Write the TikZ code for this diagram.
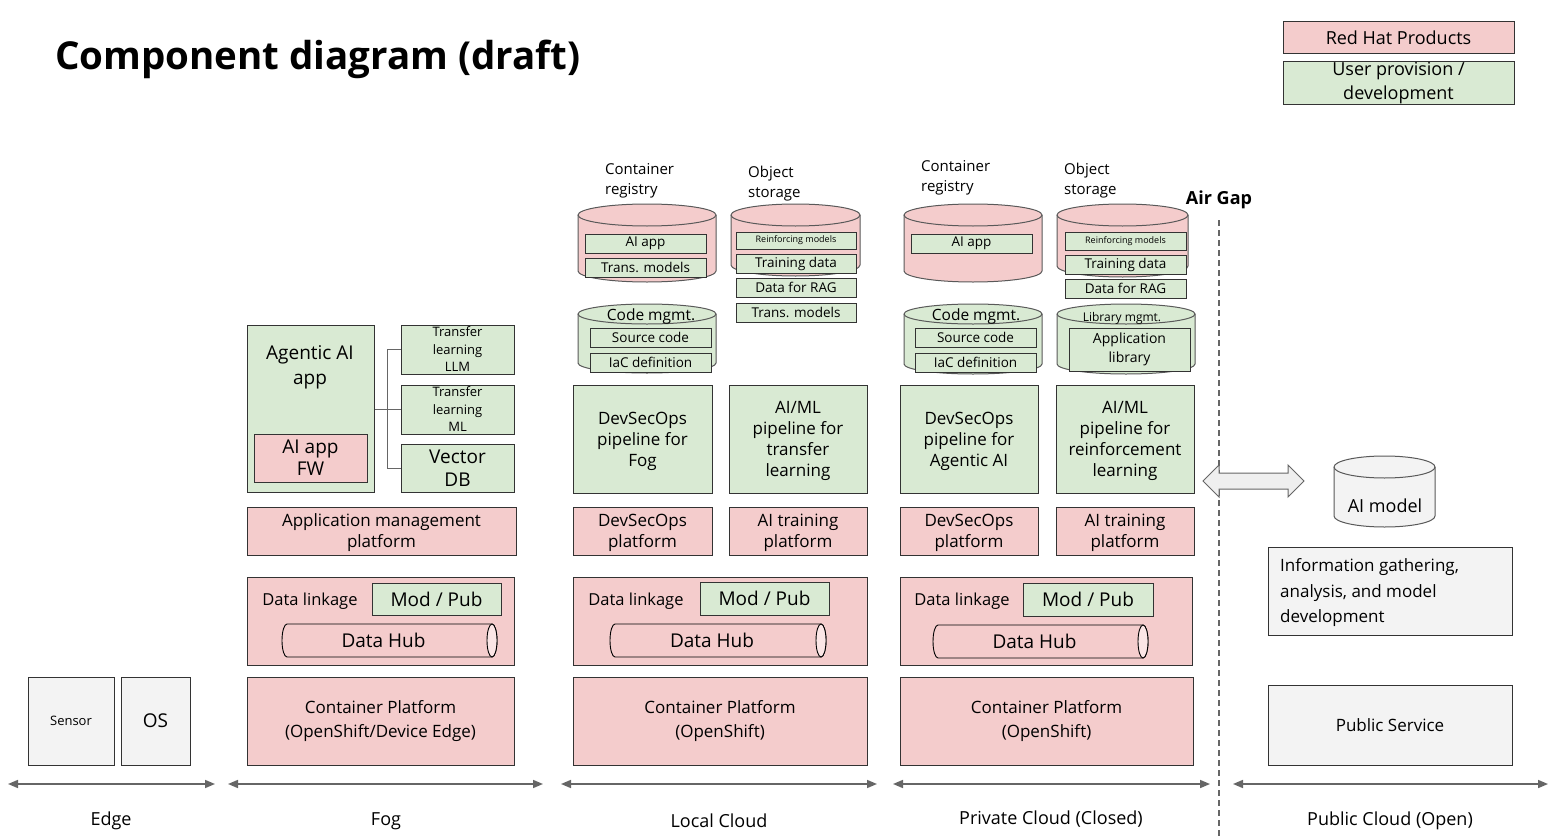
\documentclass[tikz,border=0pt]{standalone}
\usepackage{fontspec}
\setmainfont{Open Sans}
\usetikzlibrary{arrows.meta}
\definecolor{rhpink}{HTML}{F4CCCC}
\definecolor{usgreen}{HTML}{D9EAD3}
\definecolor{pubgrey}{HTML}{F3F3F3}
\definecolor{edgecol}{HTML}{333333}
\definecolor{cylcol}{HTML}{595959}
\definecolor{axiscol}{HTML}{666666}
\definecolor{hubend}{HTML}{FBE6E6}
\definecolor{fatfill}{HTML}{EFEFEF}
\newcommand\fs[2]{\fontsize{#1}{#2}\selectfont}
\tikzset{
  box/.style={draw=edgecol, line width=1pt, inner sep=0pt, align=center, text=black},
  redbox/.style={box, fill=rhpink},
  greenbox/.style={box, fill=usgreen},
  greybox/.style={box, fill=pubgrey},
  txt/.style={inner sep=0pt, align=center, text=black},
  lefttxt/.style={inner sep=0pt, align=left, anchor=west, text=black},
  main/.style={font=\fs{17}{21}, text depth=-1pt},
  cpf/.style={font=\fs{17}{24}},
  big/.style={font=\fs{19}{23}},
  itm/.style={font=\fs{13.5}{16}},
  tinytxt/.style={font=\fs{9}{11}},
  dltxt/.style={txt, font=\fs{16.5}{20}},
  storelbl/.style={lefttxt, font=\fs{15}{20}},
  axislbl/.style={txt, font=\fs{18}{22}},
  cylline/.style={draw=cylcol, line width=1pt},
  hubline/.style={draw=black, line width=0.9pt},
  axisarrow/.style={draw=axiscol, line width=1.6pt, arrows={Triangle[length=10pt,width=8pt]-Triangle[length=10pt,width=8pt]}},
  conn/.style={draw=axiscol, line width=1pt},
  gapline/.style={draw=axiscol, line width=1.6pt, dash pattern=on 6pt off 4pt},
}
% box: style, name, x1, y1, x2, y2, text  (pixel coordinates, y downwards)
\newcommand\bx[7]{\node[#1, minimum width={(#5-#3)*1pt}, minimum height={(#6-#4)*1pt}] (#2) at ({(#3+#5)/2},{-(#4+#6)/2}) {#7};}
% vertical cylinder: name, x1, ytop, x2, ybot, ry, fill
\newcommand\cyl[7]{%
  \pgfmathsetmacro\crx{(#4-#2)/2}%
  \pgfmathsetmacro\cya{-#3-#6}%
  \pgfmathsetmacro\cyb{-#5+#6}%
  \filldraw[cylline, fill=#7] (#2,\cya) -- (#2,\cyb) arc[start angle=180,end angle=360,x radius=\crx pt,y radius=#6 pt] -- (#4,\cya) arc[start angle=0,end angle=180,x radius=\crx pt,y radius=#6 pt] -- cycle;
  \draw[cylline] (#2,\cya) arc[start angle=180,end angle=360,x radius=\crx pt,y radius=#6 pt];
  \coordinate (#1) at ({(#2+#4)/2},{-(#3+#5)/2});
}
% horizontal cylinder (Data Hub): name, x1, y1, x2, y2, text
\newcommand\hub[6]{%
  \pgfmathsetmacro\ha{-#3}%
  \pgfmathsetmacro\hb{-#5}%
  \pgfmathsetmacro\hr{(#5-#3)/2}%
  \pgfmathsetmacro\hxa{#2+5}%
  \pgfmathsetmacro\hxb{#4-5}%
  \pgfmathsetmacro\hm{-(#3+#5)/2}%
  \filldraw[hubline, fill=rhpink] (\hxa,\ha) -- (\hxb,\ha) arc[start angle=90,end angle=-90,x radius=5pt,y radius=\hr pt] -- (\hxa,\hb) arc[start angle=270,end angle=90,x radius=5pt,y radius=\hr pt] -- cycle;
  \filldraw[hubline, fill=hubend] (\hxb,\hm) ellipse[x radius=5pt, y radius=\hr pt];
  \node[txt, font=\fs{19}{23}] (#1) at ({(#2+#4)/2-6},\hm) {#6};
}
\begin{document}
\begin{tikzpicture}[x=1pt,y=1pt]
\fill[white] (0,0) rectangle (1557,-840);
\useasboundingbox (0,0) rectangle (1557,-840);

% title
\node[lefttxt, font=\fs{38.5}{42}\bfseries] (title) at (55,-59) {Component diagram (draft)};

% legend
\bx{redbox,font=\fs{18}{23}}{legRH}{1283}{22}{1514}{54}{Red Hat Products}
\bx{greenbox,font=\fs{18}{24}}{legUser}{1283}{62}{1514}{105}{User provision /\\development}

% ---------------- Edge
\bx{greybox,font=\fs{13}{16}}{sensor}{28}{677}{114}{765}{Sensor}
\bx{greybox,big}{os}{121}{677}{190}{765}{OS}

% ---------------- Fog
\bx{greenbox}{agentic}{247}{325}{374}{492}{}
\node[txt,font=\fs{19}{25}] (agentictxt) at (310,-367) {Agentic AI\\app};
\bx{redbox,font=\fs{19}{22}}{aifw}{254}{434}{367}{482}{AI app\\FW}
\bx{greenbox,font=\fs{13}{17.5}}{tllm}{401}{325}{514}{374}{Transfer\\learning\\LLM}
\bx{greenbox,font=\fs{13}{17.5}}{tlml}{401}{385}{514}{434}{Transfer\\learning\\ML}
\bx{greenbox,font=\fs{19}{23}}{vdb}{401}{444}{514}{492}{Vector\\DB}
\coordinate (fogj) at (387,-409);
\draw[conn] (agentic.east |- fogj) -- (fogj);
\draw[conn] (fogj) |- (tllm.west);
\draw[conn] (fogj) -- (tlml.west |- fogj);
\draw[conn] (fogj) |- (vdb.west);
\bx{redbox,main}{appmgmt}{247}{507}{516}{555}{Application management\\platform}
\bx{redbox}{fogdl}{247}{577}{514}{665}{}
\node[dltxt] (fogdltxt) at (310,-601) {Data linkage};
\bx{greenbox,big}{fogmp}{372}{583}{501}{615}{Mod / Pub}
\hub{foghub}{282}{624}{497}{657}{Data Hub}
\bx{redbox,cpf}{fogcp}{247}{677}{514}{765}{Container Platform\\(OpenShift/Device Edge)}

% ---------------- Local Cloud
\node[storelbl] (lcreg) at (605,-181) {Container\\registry};
\node[storelbl] (lcobj) at (748,-184) {Object\\storage};
\cyl{lccyl1}{578}{204}{716}{282}{11}{rhpink}
\bx{greenbox,itm}{lcaiapp}{585}{234}{706}{253}{AI app}
\bx{greenbox,itm}{lctrans1}{585}{258}{706}{277}{Trans. models}
\cyl{lccyl2}{731}{204}{860}{276}{11}{rhpink}
\bx{greenbox,tinytxt}{lcreinf}{736}{232}{856}{249}{Reinforcing models}
\bx{greenbox,itm}{lctrain}{736}{254}{856}{273}{Training data}
\bx{greenbox,itm}{lcrag}{736}{278}{856}{297}{Data for RAG}
\bx{greenbox,itm}{lctrans2}{736}{303}{856}{322}{Trans. models}
\cyl{lccode}{578}{304}{716}{373}{10}{usgreen}
\node[txt,font=\fs{15.5}{20}] (lccodetxt) at (651,-316) {Code mgmt.};
\bx{greenbox,itm}{lcsrc}{590}{328}{711}{347}{Source code}
\bx{greenbox,itm}{lciac}{590}{353}{711}{372}{IaC definition}
\bx{greenbox,main}{lcdso}{573}{385}{712}{493}{DevSecOps\\pipeline for\\Fog}
\bx{greenbox,main}{lcaiml}{729}{385}{867}{493}{AI/ML\\pipeline for\\transfer\\learning}
\bx{redbox,main}{lcdsop}{573}{507}{712}{555}{DevSecOps\\platform}
\bx{redbox,main}{lcait}{729}{507}{867}{555}{AI training\\platform}
\bx{redbox}{lcdl}{573}{577}{867}{665}{}
\node[dltxt] (lcdltxt) at (636,-601) {Data linkage};
\bx{greenbox,big}{lcmp}{700}{582}{829}{615}{Mod / Pub}
\hub{lchub}{610}{624}{826}{657}{Data Hub}
\bx{redbox,cpf}{lccp}{573}{677}{867}{765}{Container Platform\\(OpenShift)}

% ---------------- Private Cloud
\node[storelbl] (pcreg) at (921,-178) {Container\\registry};
\node[storelbl] (pcobj) at (1064,-181) {Object\\storage};
\cyl{pccyl1}{904}{204}{1042}{282}{11}{rhpink}
\bx{greenbox,itm}{pcaiapp}{911}{234}{1032}{253}{AI app}
\cyl{pccyl2}{1057}{204}{1188}{277}{11}{rhpink}
\bx{greenbox,tinytxt}{pcreinf}{1065}{232}{1186}{250}{Reinforcing models}
\bx{greenbox,itm}{pctrain}{1065}{255}{1186}{274}{Training data}
\bx{greenbox,itm}{pcrag}{1065}{279}{1186}{298}{Data for RAG}
\cyl{pccode}{904}{304}{1042}{374}{10}{usgreen}
\node[txt,font=\fs{15.5}{20}] (pccodetxt) at (976,-316) {Code mgmt.};
\bx{greenbox,itm}{pcsrc}{915}{328}{1036}{347}{Source code}
\bx{greenbox,itm}{pciac}{915}{353}{1036}{372}{IaC definition}
\cyl{pclib}{1057}{304}{1195}{374}{10}{usgreen}
\node[txt,font=\fs{12}{15}] (pclibtxt) at (1122,-318) {Library mgmt.};
\bx{greenbox,font=\fs{14}{19}}{pcapplib}{1069}{328}{1190}{371}{Application\\library}
\bx{greenbox,main}{pcdso}{900}{385}{1038}{493}{DevSecOps\\pipeline for\\Agentic AI}
\bx{greenbox,main}{pcaiml}{1056}{385}{1194}{493}{AI/ML\\pipeline for\\reinforcement\\learning}
\bx{redbox,main}{pcdsop}{900}{507}{1038}{555}{DevSecOps\\platform}
\bx{redbox,main}{pcait}{1056}{507}{1194}{555}{AI training\\platform}
\bx{redbox}{pcdl}{900}{577}{1192}{665}{}
\node[dltxt] (pcdltxt) at (962,-601) {Data linkage};
\bx{greenbox,big}{pcmp}{1023}{583}{1153}{616}{Mod / Pub}
\hub{pchub}{933}{625}{1148}{658}{Data Hub}
\bx{redbox,cpf}{pccp}{900}{677}{1193}{765}{Container Platform\\(OpenShift)}

% ---------------- Air gap
\node[txt,font=\fs{18}{22}\bfseries] (airgap) at (1219,-200) {Air Gap};
\coordinate (gapTop) at (1219,-220);
\coordinate (gapBot) at (1219,-840);
\draw[gapline] (gapTop) -- (gapBot);
\filldraw[draw=axiscol, line width=1pt, fill=fatfill]
  (1203,-481) -- (1219,-465) -- (1219,-473) -- (1288,-473) -- (1288,-465) -- (1304,-481)
  -- (1288,-497) -- (1288,-489) -- (1219,-489) -- (1219,-497) -- cycle;

% ---------------- Public Cloud
\cyl{aimodel}{1334}{456}{1435}{527}{11}{pubgrey}
\node[txt,font=\fs{18}{22}] (aimodeltxt) at (1385,-506) {AI model};
\bx{greybox}{info}{1268}{547}{1512}{635}{}
\node[lefttxt,font=\fs{17}{25.5}] (infotxt) at (1280,-593) {Information gathering,\\analysis, and model\\development};
\bx{greybox,main}{pubsvc}{1268}{685}{1512}{765}{Public Service}

% ---------------- axes
\coordinate (eL) at (8,-784);    \coordinate (eR) at (215,-784);
\coordinate (fL) at (228,-784);  \coordinate (fR) at (543,-784);
\coordinate (lL) at (561,-784);  \coordinate (lR) at (877,-784);
\coordinate (pL) at (893,-784);  \coordinate (pR) at (1210,-784);
\coordinate (uL) at (1233,-784); \coordinate (uR) at (1548,-784);
\draw[axisarrow] (eL) -- (eR);
\draw[axisarrow] (fL) -- (fR);
\draw[axisarrow] (lL) -- (lR);
\draw[axisarrow] (pL) -- (pR);
\draw[axisarrow] (uL) -- (uR);
\node[axislbl] (edgelbl) at (111,-821) {Edge};
\node[axislbl] (foglbl) at (386,-821) {Fog};
\node[axislbl] (locallbl) at (719,-821) {Local Cloud};
\node[axislbl] (privlbl) at (1051,-819) {Private Cloud (Closed)};
\node[axislbl] (publbl) at (1390,-821) {Public Cloud (Open)};
\end{tikzpicture}
\end{document}
